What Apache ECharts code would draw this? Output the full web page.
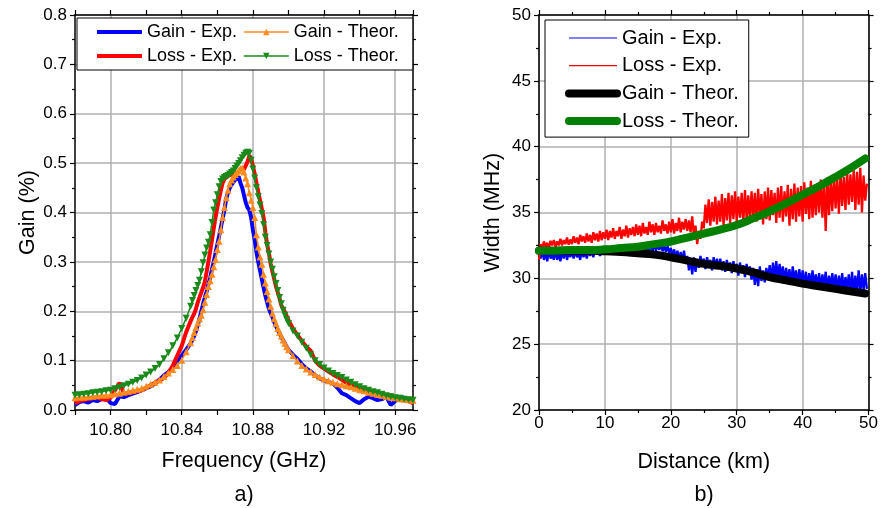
<!DOCTYPE html>
<html><head><meta charset="utf-8">
<script src="https://cdn.jsdelivr.net/npm/echarts@6/dist/echarts.min.js"></script>
<style>html,body{margin:0;padding:0;background:#fff}#c{width:881px;height:508px}</style>
</head><body><div id="c"></div>
<script>
// ---------- Panel a) : gain spectra ----------
const freq = [10.78,10.7825,10.785,10.7875,10.79,10.7925,10.795,10.7975,10.8,10.8025,10.805,10.8075,10.81,10.8125,10.815,10.8175,10.82,10.8225,10.825,10.8275,10.83,10.8325,10.835,10.8375,10.84,10.8425,
10.845,10.846,10.847,10.848,10.849,10.85,10.851,10.852,10.853,10.854,10.855,10.856,10.857,10.858,10.859,10.86,10.861,10.862,10.863,10.864,10.865,10.866,10.867,10.868,10.869,10.87,10.871,10.872,10.873,10.874,10.875,10.876,10.877,10.878,10.879,10.88,10.881,10.882,10.883,10.884,10.885,10.886,10.887,10.888,10.889,10.89,10.891,10.892,10.893,10.894,10.895,10.896,10.897,10.898,10.899,10.9,
10.9025,10.905,10.9075,10.91,10.9125,10.915,10.9175,10.92,10.9225,10.925,10.9275,10.93,10.9325,10.935,10.9375,10.94,10.9425,10.945,10.9475,10.95,10.9525,10.955,10.9575,10.96,10.9625,10.965,10.9675,10.97];

const gainExp = [0.010,0.016,0.018,0.015,0.02,0.018,0.022,0.025,0.014,0.012,0.028,0.026,0.03,0.033,0.036,0.04,0.044,0.048,0.053,0.062,0.07,0.077,0.086,0.1,0.11,0.122,
0.135,0.142,0.15,0.16,0.172,0.185,0.2,0.215,0.228,0.24,0.255,0.268,0.285,0.3,0.318,0.335,0.352,0.37,0.388,0.405,0.428,0.44,0.45,0.456,0.461,0.466,0.47,0.473,0.46,0.45,0.435,0.42,0.41,0.405,0.39,0.365,0.345,0.32,0.3,0.283,0.265,0.248,0.232,0.218,0.205,0.196,0.188,0.178,0.17,0.162,0.155,0.148,0.141,0.135,0.128,0.122,
0.112,0.104,0.093,0.084,0.078,0.07,0.064,0.06,0.057,0.054,0.045,0.034,0.03,0.024,0.018,0.014,0.022,0.027,0.024,0.02,0.022,0.027,0.01,0.018,0.027,0.025,0.02,0.018];

const lossExp = [0.014,0.018,0.02,0.022,0.024,0.026,0.022,0.02,0.025,0.04,0.055,0.034,0.034,0.036,0.038,0.04,0.045,0.05,0.055,0.06,0.065,0.075,0.09,0.11,0.13,0.158,
0.18,0.188,0.195,0.205,0.218,0.228,0.238,0.248,0.26,0.28,0.3,0.322,0.345,0.368,0.39,0.41,0.428,0.445,0.46,0.468,0.472,0.474,0.476,0.477,0.478,0.479,0.479,0.482,0.488,0.49,0.487,0.488,0.503,0.515,0.51,0.495,0.478,0.46,0.442,0.425,0.408,0.39,0.36,0.335,0.318,0.296,0.28,0.265,0.25,0.238,0.226,0.212,0.205,0.198,0.19,0.182,
0.165,0.152,0.14,0.128,0.12,0.1,0.09,0.084,0.078,0.072,0.067,0.061,0.055,0.05,0.046,0.047,0.038,0.036,0.038,0.032,0.034,0.03,0.03,0.025,0.022,0.02,0.018,0.014];

const gainTheor = [0.025,0.026,0.026,0.027,0.028,0.029,0.030,0.030,0.031,0.033,0.034,0.036,0.038,0.040,0.042,0.044,0.048,0.052,0.056,0.061,0.068,0.075,0.082,0.090,0.101,0.118,
0.136,0.147,0.157,0.167,0.176,0.185,0.192,0.203,0.218,0.234,0.25,0.262,0.275,0.29,0.305,0.325,0.342,0.365,0.39,0.41,0.43,0.445,0.458,0.466,0.472,0.477,0.481,0.485,0.489,0.49,0.482,0.47,0.458,0.44,0.425,0.41,0.39,0.355,0.33,0.31,0.295,0.275,0.257,0.24,0.225,0.21,0.196,0.185,0.175,0.165,0.157,0.15,0.142,0.135,0.128,0.122,
0.11,0.099,0.09,0.083,0.077,0.072,0.067,0.063,0.059,0.056,0.053,0.051,0.049,0.047,0.044,0.041,0.039,0.036,0.034,0.032,0.03,0.028,0.026,0.025,0.023,0.022,0.021,0.02];

const lossTheor = [0.030,0.031,0.032,0.033,0.035,0.036,0.037,0.039,0.040,0.043,0.046,0.049,0.052,0.056,0.060,0.065,0.071,0.077,0.084,0.092,0.104,0.116,0.13,0.146,0.165,0.186,
0.21,0.222,0.232,0.242,0.252,0.263,0.28,0.298,0.314,0.328,0.34,0.355,0.38,0.405,0.42,0.436,0.452,0.463,0.468,0.471,0.473,0.475,0.478,0.481,0.484,0.489,0.494,0.499,0.505,0.511,0.516,0.52,0.522,0.52,0.506,0.488,0.47,0.45,0.432,0.415,0.398,0.375,0.35,0.333,0.316,0.3,0.285,0.27,0.256,0.242,0.228,0.215,0.202,0.192,0.183,0.175,
0.16,0.15,0.137,0.125,0.112,0.1,0.092,0.085,0.079,0.074,0.07,0.066,0.061,0.056,0.051,0.047,0.043,0.04,0.037,0.035,0.032,0.029,0.027,0.025,0.024,0.022,0.021,0.02];

// ---------- Panel b) : width vs distance ----------
const dist = [0,0.25,0.5,0.75,1,1.25,1.5,1.75,2,2.25,2.5,2.75,3,3.25,3.5,3.75,4,4.25,4.5,4.75,5,5.25,5.5,5.75,6,6.25,6.5,6.75,7,7.25,7.5,7.75,8,8.25,8.5,8.75,9,9.25,9.5,9.75,
10,10.25,10.5,10.75,11,11.25,11.5,11.75,12,12.25,12.5,12.75,13,13.25,13.5,13.75,14,14.25,14.5,14.75,15,15.25,15.5,15.75,16,16.25,16.5,16.75,17,17.25,17.5,17.75,18,18.25,18.5,18.75,19,19.25,19.5,19.75,
20,20.25,20.5,20.75,21,21.25,21.5,21.75,22,22.25,22.5,22.75,23,23.25,23.5,23.75,24,24.25,24.5,24.75,25,25.25,25.5,25.75,26,26.25,26.5,26.75,27,27.25,27.5,27.75,28,28.25,28.5,28.75,29,29.25,29.5,29.75,
30,30.25,30.5,30.75,31,31.25,31.5,31.75,32,32.25,32.5,32.75,33,33.25,33.5,33.75,34,34.25,34.5,34.75,35,35.25,35.5,35.75,36,36.25,36.5,36.75,37,37.25,37.5,37.75,38,38.25,38.5,38.75,39,39.25,39.5,39.75,
40,40.25,40.5,40.75,41,41.25,41.5,41.75,42,42.25,42.5,42.75,43,43.25,43.5,43.75,44,44.25,44.5,44.75,45,45.25,45.5,45.75,46,46.25,46.5,46.75,47,47.25,47.5,47.75,48,48.25,48.5,48.75,49,49.25,49.5,49.75];

const widthGainExp = [32.1,31.5,32.2,31.4,32.0,31.3,32.2,31.5,31.9,31.4,
32.2,31.4,31.9,31.3,32.1,31.5,32.2,31.4,32.0,31.6,
32.1,31.5,32.2,31.6,31.95,31.4,32.15,31.6,32.05,31.5,
32.2,31.7,32.1,31.6,32.25,31.8,32.15,31.7,32.3,31.8,
32.3,31.95,32.45,31.9,32.3,32.0,32.4,31.95,32.35,32.0,
32.4,31.95,32.3,32.0,32.5,31.9,32.35,32.05,32.45,31.95,
32.55,32.0,32.45,32.05,32.6,32.0,32.5,32.1,32.65,32.05,
32.7,32.1,32.6,32.15,32.65,32.05,32.5,32.0,32.45,31.95,
32.3,31.7,32.2,31.6,32.1,31.4,32.0,31.3,32.1,31.2,
31.7,30.6,31.5,30.3,31.6,30.5,31.4,30.8,31.7,30.9,
31.5,30.7,31.6,30.9,31.4,30.6,31.6,30.8,31.5,30.7,
31.5,30.6,31.3,30.5,31.4,30.7,31.2,30.4,31.3,30.5,
31.1,30.2,31.2,30.4,31.0,30.1,31.1,30.3,30.9,29.9,
30.8,29.5,30.7,29.4,30.9,29.8,30.6,29.7,30.8,29.9,
31.0,29.8,31.2,30.0,31.3,29.9,31.1,30.1,30.9,29.8,
30.8,29.7,30.7,29.6,30.9,29.8,30.6,29.5,30.7,29.6,
30.6,29.4,30.5,29.3,30.4,29.5,30.6,29.4,30.3,29.3,
30.4,29.2,30.3,29.4,30.5,29.1,30.2,29.3,30.4,29.2,
30.3,29.0,30.2,29.2,30.4,28.9,30.1,29.1,30.3,29.0,
30.5,28.8,30.2,29.0,30.6,28.9,30.3,29.1,30.4,29.2];

const widthLossExp = [31.4,32.6,32.3,32.8,32.4,32.7,32.3,32.85,32.5,32.9,
32.4,32.8,32.5,33.0,32.5,32.9,32.6,33.1,32.55,32.95,
32.6,33.2,32.7,33.1,32.6,33.3,32.8,33.2,32.7,33.4,
32.8,33.3,32.7,33.5,32.9,33.4,32.8,33.6,32.9,33.5,
33.0,33.7,32.9,33.6,33.1,33.8,33.0,33.6,33.2,33.9,
33.0,33.7,33.2,34.0,33.1,33.8,33.3,33.9,33.2,34.1,
33.3,34.0,33.2,34.2,33.4,33.9,33.3,34.3,33.5,34.1,
33.3,34.2,33.5,34.0,33.4,34.4,33.6,34.1,33.4,34.3,
33.5,34.5,33.4,34.2,33.6,34.6,33.5,34.3,33.7,34.5,
33.6,34.4,33.5,34.7,33.2,34.0,32.6,33.6,33.0,34.3,
33.8,35.6,34.2,36.0,34.0,35.8,34.3,36.2,34.1,35.9,
34.3,36.4,34.0,36.1,34.4,36.5,34.2,36.3,34.5,36.6,
34.3,36.2,34.6,36.5,34.2,36.7,34.5,36.3,34.4,36.6,
34.6,36.5,34.3,36.8,34.7,36.4,34.1,36.6,34.5,36.9,
34.4,36.7,34.8,36.5,34.2,36.9,34.6,37.0,34.3,36.6,
34.7,37.1,34.0,36.8,34.5,37.2,34.3,36.9,34.7,37.0,
34.3,37.3,34.9,36.9,34.5,37.4,34.6,37.1,34.8,37.2,
35.0,37.5,34.6,37.3,33.6,37.7,34.8,37.4,35.1,37.8,
35.3,37.6,34.9,38.0,35.5,37.7,35.2,38.2,35.6,37.9,
35.8,38.3,35.2,38.1,35.6,38.4,35.0,37.8,35.9,37.2];

const distTheor = [0,2.5,5,7.5,10,12.5,15,17.5,20,22.5,25,27.5,30,32.5,35,37.5,40,42.5,45,47.5,49.5];
const widthGainTheor = [32.1,32.1,32.1,32.1,32.05,32.0,31.9,31.8,31.6,31.35,31.1,30.95,30.75,30.45,30.1,29.85,29.6,29.4,29.2,29.0,28.85];
const widthLossTheor = [32.1,32.1,32.15,32.15,32.2,32.3,32.4,32.6,32.8,33.1,33.4,33.7,34.05,34.55,35.1,35.7,36.35,37.0,37.7,38.45,39.1];

const namesA = ['Gain - Exp.','Gain - Theor.','Loss - Exp.','Loss - Theor.'];
const namesB = ['Gain - Exp.','Loss - Exp.','Gain - Theor.','Loss - Theor.'];

const FONT = '"Liberation Sans", Arial, sans-serif';
const pair = (xs, ys) => xs.map((x, i) => [x, ys[i]]);
const noMarker = {itemStyle: {opacity: 0}};

const axisLine = {show: true, onZero: false, lineStyle: {color: '#000', width: 1.5}};
const tick = {show: true, inside: false, length: 5, lineStyle: {color: '#000', width: 1.2}};
const minor = {show: true, splitNumber: 2, length: 3, lineStyle: {color: '#000', width: 1.2}};
const lab = {color: '#000', fontSize: 17, fontFamily: FONT};
const gridLine = {show: true, lineStyle: {color: '#b0b0b0', width: 1.5}};
const nameStyle = {color: '#000', fontSize: 21.5, fontFamily: FONT};

const chart = echarts.init(document.getElementById('c'), null, {renderer: 'canvas'});
chart.setOption({
  backgroundColor: '#fff',
  animation: false,
  grid: [
    {left: 75, top: 15, width: 338, height: 395},
    {left: 539, top: 15, width: 331, height: 395}
  ],
  xAxis: [
    {gridIndex: 0, type: 'value', position: 'bottom', min: 10.78, max: 10.97, interval: 0.02,
     axisLine, axisTick: tick,
     axisLabel: Object.assign({}, lab, {margin: 12, showMaxLabel: false,
       formatter: v => (Math.round(v * 100) % 4 === 0 ? v.toFixed(2) : '')}),
     splitLine: {show: true, lineStyle: {color: ['rgba(0,0,0,0)', '#b0b0b0'], width: 1.5}},
     name: 'Frequency (GHz)', nameLocation: 'middle', nameGap: 40, nameTextStyle: nameStyle},
    {gridIndex: 0, type: 'value', position: 'top', min: 10.78, max: 10.97, interval: 0.02,
     axisLine, axisTick: tick, axisLabel: {show: false}, splitLine: {show: false}},
    {gridIndex: 1, type: 'value', position: 'bottom', min: 0, max: 50, interval: 10,
     axisLine, axisTick: tick, minorTick: minor, axisLabel: Object.assign({}, lab, {margin: 5}), splitLine: gridLine,
     name: 'Distance (km)', nameLocation: 'middle', nameGap: 41, nameTextStyle: nameStyle},
    {gridIndex: 1, type: 'value', position: 'top', min: 0, max: 50, interval: 10,
     axisLine, axisTick: tick, minorTick: minor, axisLabel: {show: false}, splitLine: {show: false}}
  ],
  yAxis: [
    {gridIndex: 0, type: 'value', position: 'left', min: 0, max: 0.8, interval: 0.1,
     axisLine, axisTick: tick, minorTick: minor,
     axisLabel: Object.assign({}, lab, {formatter: v => v.toFixed(1)}),
     splitLine: gridLine,
     name: 'Gain (%)', nameLocation: 'middle', nameGap: 28, nameTextStyle: nameStyle},
    {gridIndex: 0, type: 'value', position: 'right', min: 0, max: 0.8, interval: 0.1,
     axisLine, axisTick: tick, minorTick: minor, axisLabel: {show: false}, splitLine: {show: false}},
    {gridIndex: 1, type: 'value', position: 'left', min: 20, max: 50, interval: 5,
     axisLine, axisTick: tick, minorTick: minor, axisLabel: lab, splitLine: gridLine,
     name: 'Width (MHz)', nameLocation: 'middle', nameGap: 35, nameTextStyle: nameStyle},
    {gridIndex: 1, type: 'value', position: 'right', min: 20, max: 50, interval: 5,
     axisLine, axisTick: tick, minorTick: minor, axisLabel: {show: false}, splitLine: {show: false}}
  ],
  legend: [
    {data: namesA.map(n => (n.indexOf('Exp') >= 0 ? Object.assign({name: n}, noMarker) : n)),
     orient: 'horizontal', left: 77, top: 18, width: 310,
     itemWidth: 45, itemHeight: 8, itemGap: 6, padding: [5, 14, 5, 18],
     borderColor: '#000', borderWidth: 1, backgroundColor: '#fff', selectedMode: false,
     lineStyle: {width: 'inherit'},
     textStyle: {color: '#000', fontSize: 18, fontFamily: FONT, lineHeight: 15}},
    {data: namesB.map(n => Object.assign({name: 'b:' + n}, noMarker,
        n.indexOf('Exp') >= 0 ? {lineStyle: {width: 1.2}} : {})),
     formatter: n => n.slice(2),
     orient: 'vertical', left: 545, top: 20,
     itemWidth: 48, itemHeight: 10, itemGap: 7.7, padding: [8, 10, 6, 20],
     borderColor: '#000', borderWidth: 1, backgroundColor: '#fff', selectedMode: false,
     lineStyle: {width: 'inherit'},
     textStyle: {color: '#000', fontSize: 20, fontFamily: FONT, lineHeight: 18}}
  ],
  graphic: [
    {type: 'text', x: 244, y: 495, style: {text: 'a)', font: '21.5px ' + FONT, fill: '#000', textAlign: 'center', textVerticalAlign: 'middle'}},
    {type: 'text', x: 704, y: 495, style: {text: 'b)', font: '21.5px ' + FONT, fill: '#000', textAlign: 'center', textVerticalAlign: 'middle'}}
  ],
  series: [
    {name: 'Gain - Exp.', type: 'line', xAxisIndex: 0, yAxisIndex: 0, data: pair(freq, gainExp),
     symbol: 'none', lineStyle: {color: '#0000ff', width: 4}, itemStyle: {color: '#0000ff'}, z: 2},
    {name: 'Loss - Exp.', type: 'line', xAxisIndex: 0, yAxisIndex: 0, data: pair(freq, lossExp),
     symbol: 'none', lineStyle: {color: '#ff0000', width: 4}, itemStyle: {color: '#ff0000'}, z: 3},
    {name: 'Gain - Theor.', type: 'line', xAxisIndex: 0, yAxisIndex: 0, data: pair(freq, gainTheor),
     symbol: 'triangle', symbolSize: 7, showAllSymbol: true,
     lineStyle: {color: '#ff8a1e', width: 1.5}, itemStyle: {color: '#ff8a1e'}, z: 4},
    {name: 'Loss - Theor.', type: 'line', xAxisIndex: 0, yAxisIndex: 0, data: pair(freq, lossTheor),
     symbol: 'triangle', symbolRotate: 180, symbolSize: 7, showAllSymbol: true,
     lineStyle: {color: '#1a8a1a', width: 1.5}, itemStyle: {color: '#1a8a1a'}, z: 5},

    {name: 'b:Gain - Exp.', type: 'line', xAxisIndex: 2, yAxisIndex: 2, data: pair(dist, widthGainExp),
     symbol: 'none', lineStyle: {color: '#0000ff', width: 2.3}, itemStyle: {color: '#0000ff'}, z: 2},
    {name: 'b:Loss - Exp.', type: 'line', xAxisIndex: 2, yAxisIndex: 2, data: pair(dist, widthLossExp),
     symbol: 'none', lineStyle: {color: '#ff0000', width: 2.3}, itemStyle: {color: '#ff0000'}, z: 3},
    {name: 'b:Gain - Theor.', type: 'line', xAxisIndex: 2, yAxisIndex: 2, data: pair(distTheor, widthGainTheor),
     symbol: 'none', smooth: true, lineStyle: {color: '#000000', width: 8, cap: 'round'}, itemStyle: {color: '#000000'}, z: 4},
    {name: 'b:Loss - Theor.', type: 'line', xAxisIndex: 2, yAxisIndex: 2, data: pair(distTheor, widthLossTheor),
     symbol: 'none', smooth: true, lineStyle: {color: '#008000', width: 8, cap: 'round'}, itemStyle: {color: '#008000'}, z: 5}
  ]
});
</script>
</body></html>
